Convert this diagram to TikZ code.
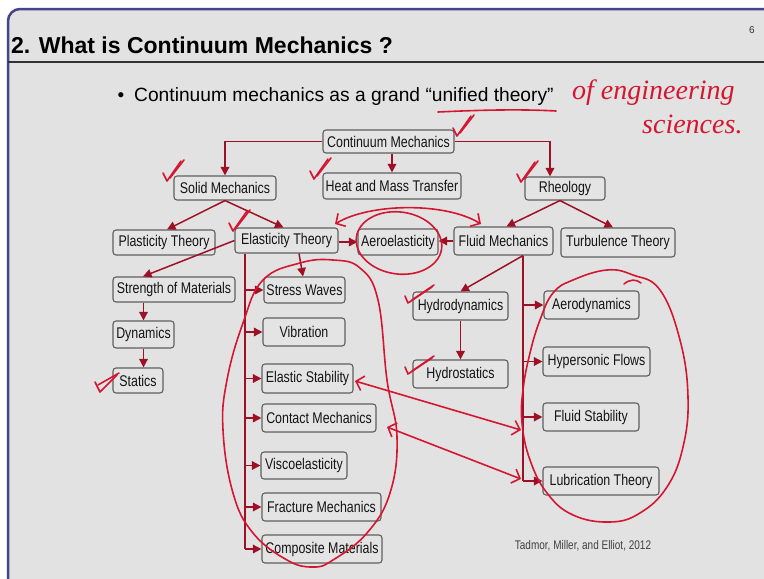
\documentclass[tikz,border=0pt]{standalone}
\usepackage{fontspec}
\setmainfont{Liberation Sans}
\newfontfamily\boxfont[FakeStretch=0.8]{Liberation Sans}
\newfontfamily\citefont[FakeStretch=0.8]{Liberation Sans}
\newfontfamily\handfont{Liberation Serif}
\usetikzlibrary{arrows.meta,calc}
\definecolor{slidebg}{RGB}{226,226,226}
\definecolor{boxfill}{RGB}{228,228,228}
\definecolor{boxbd}{RGB}{95,95,95}
\definecolor{arrred}{RGB}{158,16,38}
\definecolor{handred}{RGB}{212,22,48}
\definecolor{framecol}{RGB}{72,68,140}
\tikzset{
  hb/.tip={Straight Barb[length=7pt,width=15pt]},
  box/.style={draw=boxbd, line width=1.1pt, rounded corners=3pt, fill=boxfill,
    inner sep=0pt, text=black!92, font=\boxfont\fontsize{15.5}{17}\selectfont},
  arr/.style={draw=arrred, line width=1.5pt, -{Triangle[length=8.5pt,width=8.5pt]}},
  trunkline/.style={draw=arrred, line width=1.5pt},
  hand/.style={draw=handred, line width=1.6pt, line cap=round, line join=round},
  chk/.pic={\draw[hand] (-4,-8) -- (0,0) -- (14,-20); \draw[hand] (3,-3) -- (17,-21);},
  chkflat/.pic={\draw[hand] (-3,-7) -- (0,0) -- (24,-16); \draw[hand] (4,-3) -- (26,-18);},
}
\begin{document}
\begin{tikzpicture}[x=1pt,y=-1pt]
\useasboundingbox (0,0) rectangle (764,579);
\fill[white] (0,0) rectangle (764,579);
\fill[slidebg, rounded corners=12pt] (8,620) -- (8,9) -- (800,9) -- (800,620) -- cycle;
\draw[framecol, line width=2.5pt, rounded corners=12pt] (8,620) -- (8,9) -- (800,9);
\draw[black!80, line width=2pt] (8,62) -- (764,62);

% texts
\node[anchor=west, inner sep=0pt, font=\bfseries\fontsize{23}{26}\selectfont] (title) at (11,45) {2. What is Continuum Mechanics ?};
\node[inner sep=0pt, font=\fontsize{10}{12}\selectfont, text=black!80] (pg) at (752,30) {6};
\node[inner sep=0pt, font=\fontsize{19}{22}\selectfont] (bul) at (121,97) {•};
\node[anchor=west, inner sep=0pt, font=\fontsize{19.2}{22}\selectfont] (sub) at (134,97) {Continuum mechanics as a grand “unified theory”};
\node[inner sep=0pt, font=\citefont\fontsize{12.5}{14}\selectfont, text=black!75] (cite) at (583,546) {Tadmor, Miller, and Elliot, 2012};

% boxes
\node[box, minimum width=131pt, minimum height=23pt] (cm) at (388.5,141.5) {Continuum Mechanics};
\node[box, minimum width=102pt, minimum height=24pt] (sm) at (225,188) {Solid Mechanics};
\node[box, minimum width=138pt, minimum height=26pt] (hmt) at (392,186) {Heat and Mass Transfer};
\node[box, minimum width=80pt, minimum height=23pt] (rh) at (565,188.5) {Rheology};
\node[box, minimum width=102pt, minimum height=25pt] (pt) at (164,242.5) {Plasticity Theory};
\node[box, minimum width=103pt, minimum height=25pt] (et) at (286.5,240.5) {Elasticity Theory};
\node[box, minimum width=80pt, minimum height=26pt] (ae) at (398,242) {Aeroelasticity};
\node[box, minimum width=99pt, minimum height=28pt] (fm) at (503.5,241) {Fluid Mechanics};
\node[box, minimum width=114pt, minimum height=29pt] (tt) at (618,242.5) {Turbulence Theory};
\node[box, minimum width=122pt, minimum height=25pt] (som) at (174,289.5) {Strength of Materials};
\node[box, minimum width=81pt, minimum height=26pt] (sw) at (304.5,290) {Stress Waves};
\node[box, minimum width=61pt, minimum height=27pt] (dyn) at (143.5,334.5) {Dynamics};
\node[box, minimum width=50pt, minimum height=25pt] (sta) at (138,380.5) {Statics};
\node[box, minimum width=82pt, minimum height=28pt] (vib) at (304,332) {Vibration};
\node[box, minimum width=91pt, minimum height=29pt] (es) at (307.5,378.5) {Elastic Stability};
\node[box, minimum width=114pt, minimum height=28pt] (cmch) at (319,418) {Contact Mechanics};
\node[box, minimum width=86pt, minimum height=27pt] (visc) at (304,465.5) {Viscoelasticity};
\node[box, minimum width=119pt, minimum height=28pt] (frac) at (321.5,507) {Fracture Mechanics};
\node[box, minimum width=120pt, minimum height=28pt] (comp) at (322,549) {Composite Materials};
\node[box, minimum width=95pt, minimum height=28pt] (hyd) at (460.5,306) {Hydrodynamics};
\node[box, minimum width=95pt, minimum height=28pt] (hys) at (460.5,374) {Hydrostatics};
\node[box, minimum width=95pt, minimum height=28pt] (aer) at (591.5,305) {Aerodynamics};
\node[box, minimum width=107pt, minimum height=29pt] (hyp) at (596.5,361.5) {Hypersonic Flows};
\node[box, minimum width=96pt, minimum height=28pt] (fs) at (591,417) {Fluid Stability};
\node[box, minimum width=116pt, minimum height=28pt] (lub) at (601,481) {Lubrication Theory};

% printed connectors
\draw[arr] (cm.west) -| (sm.north);
\draw[arr] (hmt.north |- cm.south) -- (hmt.north);
\draw[arr] (cm.east) -| ([xshift=-15pt]rh.north);
\draw[arr] (sm.south) -- ([xshift=3pt]pt.north);
\draw[arr] (sm.south) -- ([xshift=-3pt]et.north);
\draw[arr] (et.west) -- ([xshift=-31pt]som.north);
\draw[arr] (et.east |- ae.west) -- (ae.west);
\draw[arr] ([xshift=12.5pt]et.south) -- ([xshift=-1.5pt]sw.north);
\coordinate (etb) at ([xshift=-41.5pt]et.south);
\draw[trunkline] (etb) -- (etb |- comp.west);
\foreach \n in {sw,vib,es,cmch,visc,frac,comp} \draw[arr] (etb |- \n.west) -- (\n.west);
\draw[arr] (dyn.north |- som.south) -- (dyn.north);
\draw[arr] (dyn.south) -- (dyn.south |- sta.north);
\draw[arr] ([xshift=-5pt]rh.south) -- ([xshift=3pt]fm.north);
\draw[arr] ([xshift=-5pt]rh.south) -- ([xshift=-5pt]tt.north);
\draw[arr] (fm.west) -- (fm.west -| ae.east);
\coordinate (fmb) at ([xshift=19.5pt]fm.south);
\draw[trunkline] (fmb) -- (fmb |- lub.west);
\draw[arr] (fmb) -- (hyd.north);
\foreach \n in {aer,hyp,fs,lub} \draw[arr] (fmb |- \n.west) -- (\n.west);
\draw[arr] (hyd.south) -- (hys.north);

% handwritten annotations
\draw[hand] (438,112) .. controls (480,110) and (520,109) .. (556,111);
\pic at (457,136) {chk};
\pic at (167,181) {chk};
\pic at (314,179) {chk};
\pic at (521,182) {chk};
\pic at (233,231) {chk};
\pic at (408,303) {chkflat};
\pic at (408,374) {chkflat};
\draw[hand] (95,382) -- (100,392) -- (117,375);
\draw[hand] (98,385) -- (119,373);
\node[anchor=base west, inner sep=0pt, text=handred, font=\handfont\itshape\fontsize{28}{28}\selectfont] (hw1) at (572,99) {of engineering};
\node[anchor=base west, inner sep=0pt, text=handred, font=\handfont\itshape\fontsize{28}{28}\selectfont] (hw2) at (642,133) {sciences.};

\draw[hand, rotate around={-8:(399,243)}] (399,243) ellipse [x radius=43, y radius=31];
\draw[hand, hb-hb] (335,224) .. controls (370,203) and (445,202) .. (481,224);
\draw[hand, hb-hb] (355,381) -- (521,430);
\draw[hand, hb-hb] (387,427) -- (521,479);

\draw[hand] plot[smooth cycle, tension=0.7] coordinates {(263,280) (300,263) (333,260) (360,268) (378,300) (387,380) (397,437) (390,493) (367,533) (333,560) (313,567) (287,560) (253,533) (233,493) (223,430) (227,380) (243,323)};
\draw[hand] plot[smooth cycle, tension=0.7] coordinates {(553,293) (573,280) (607,270) (633,275) (660,290) (680,340) (688,397) (683,447) (667,487) (640,513) (610,522) (573,515) (547,493) (530,460) (522,423) (523,390) (530,353) (540,320)};
\draw[hand] (624,284) .. controls (630,279) and (636,279) .. (641,283);
\end{tikzpicture}
\end{document}
